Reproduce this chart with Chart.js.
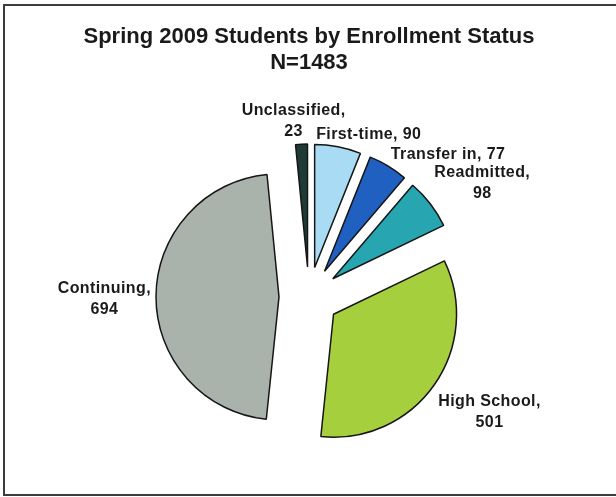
<!DOCTYPE html>
<html>
<head>
<meta charset="utf-8">
<title>Spring 2009 Students by Enrollment Status</title>
<script src="https://cdn.jsdelivr.net/npm/chart.js@4.4.0/dist/chart.umd.min.js"></script>
<style>
  html, body { margin: 0; padding: 0; background: #fff; overflow: hidden; }
  #wrap { position: relative; width: 616px; height: 497px; }
  #frame { position: absolute; left: 3px; top: 4px; width: 660px; height: 492px;
           border: 2px solid #3c3c3c; box-sizing: border-box; }
  #chart { position: absolute; left: 0; top: 0; }
</style>
</head>
<body>
<div id="wrap">
  <div id="frame"></div>
  <canvas id="chart" width="616" height="497"></canvas>
</div>
<script>
// data
const categories = ["Unclassified", "First-time", "Transfer in", "Readmitted", "High School", "Continuing"];
const students = [23, 90, 77, 98, 501, 694];
const titleLines = ["Spring 2009 Students by Enrollment Status", "N=1483"];

const sliceColors = ["#1f3b35", "#a9dcf4", "#1f60c0", "#27a6b2", "#a6cf3e", "#a9b3ab"];
const wrapLabel = [true, false, false, true, true, true];

const FONT = '"Liberation Sans", Arial, sans-serif';
const TEXT = "#1a1a1a";
const EXPLODE = 30;   // every slice pulled out from the centre (Excel "explosion")
const LABEL_GAP = 5;
const LINE_H = 21;

// Chart.js' own `offset` also grows small slices, so push each arc out along its mid angle instead
const explode = {
  id: "explode",
  afterDatasetUpdate(chart, args) {
    chart.getDatasetMeta(args.index).data.forEach(arc => {
      const mid = (arc.startAngle + arc.endAngle) / 2;
      arc.x += Math.cos(mid) * EXPLODE;
      arc.y += Math.sin(mid) * EXPLODE;
    });
  }
};

// data labels just outside each slice, nudged away along its mid angle
const sliceLabels = {
  id: "sliceLabels",
  afterDatasetsDraw(chart) {
    const ctx = chart.ctx;
    const meta = chart.getDatasetMeta(0);
    const clamp = v => Math.max(-1, Math.min(1, v));
    ctx.save();
    ctx.font = "bold 16px " + FONT;
    if ("letterSpacing" in ctx) ctx.letterSpacing = "0.4px";
    ctx.fillStyle = TEXT;
    ctx.textAlign = "center";
    ctx.textBaseline = "middle";
    meta.data.forEach((arc, i) => {
      const { x, y, startAngle, endAngle, outerRadius } = arc;
      const mid = (startAngle + endAngle) / 2;
      const r = outerRadius + LABEL_GAP;
      const ax = x + Math.cos(mid) * r;
      const ay = y + Math.sin(mid) * r;
      const lines = wrapLabel[i]
        ? [categories[i] + ",", String(students[i])]
        : [categories[i] + ", " + students[i]];
      const w = Math.max(...lines.map(l => ctx.measureText(l).width));
      const h = lines.length * LINE_H;
      const cx = ax + clamp(3 * Math.cos(mid)) * w / 2;
      const cy = ay + clamp(3 * Math.sin(mid)) * h / 2 + 3;
      lines.forEach((l, k) => ctx.fillText(l, cx, cy - h / 2 + LINE_H * (k + 0.5)));
    });
    ctx.restore();
  }
};

new Chart(document.getElementById("chart"), {
  type: "pie",
  data: {
    labels: categories,
    datasets: [{
      data: students,
      backgroundColor: sliceColors,
      borderColor: "#161616",
      borderWidth: 1.5,
    }],
  },
  options: {
    responsive: false,
    animation: false,
    rotation: -5.6,
    radius: 123,
    layout: { padding: { left: 2, right: 0, top: 0, bottom: 43 } },
    plugins: {
      legend: { display: false },
      tooltip: { enabled: false },
      title: {
        display: true,
        text: titleLines,
        color: TEXT,
        font: { family: FONT, size: 22, weight: "bold", lineHeight: 26 / 22 },
        padding: { top: 24, bottom: 64 },
      },
    },
  },
  plugins: [explode, sliceLabels],
});
</script>
</body>
</html>
